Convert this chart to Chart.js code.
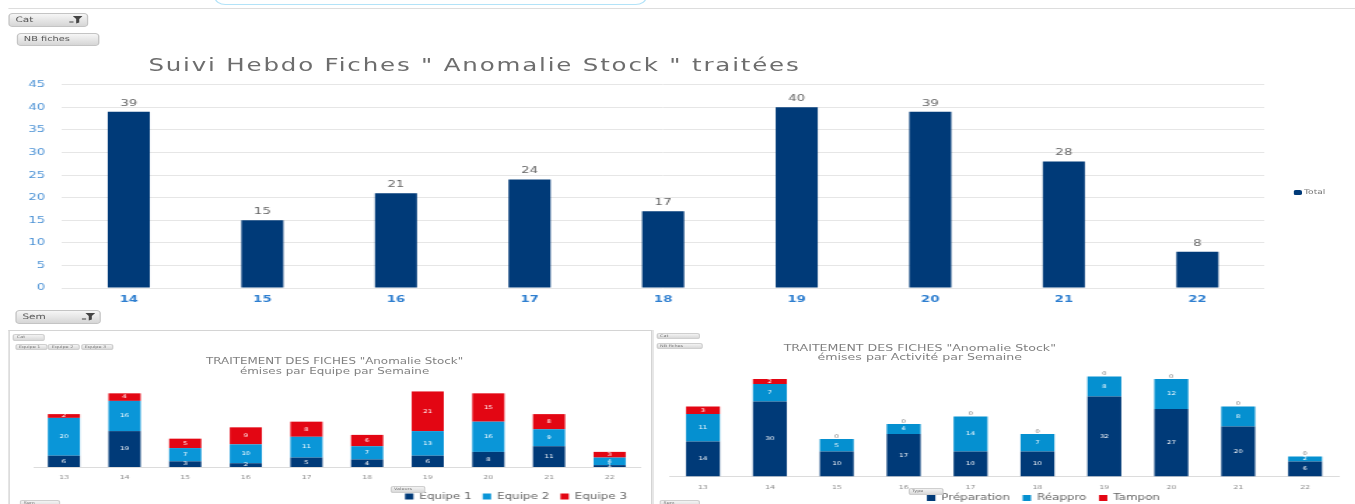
<!DOCTYPE html>
<html><head><meta charset="utf-8">
<script src="https://cdn.jsdelivr.net/npm/chart.js@4.4.1/dist/chart.umd.min.js"></script>
<style>
html,body{margin:0;padding:0;background:#fff;overflow:hidden;width:1355px;height:504px}
#stage{position:absolute;left:0;top:0;width:968px;height:504px;transform:scaleX(1.4);transform-origin:0 0;font-family:"DejaVu Sans",Verdana,sans-serif;overflow:hidden}
.abs{position:absolute}
.btn{position:absolute;box-sizing:border-box;background:linear-gradient(#f6f6f6,#d6d6d6);border:1px solid #c4c4c4;border-radius:3px;color:#555;white-space:nowrap;overflow:hidden}
.btn svg{position:absolute;right:3px}
.mini{position:absolute;box-sizing:border-box;background:linear-gradient(#f3f3f3,#d9d9d9);border:1px solid #cfcfcf;border-radius:2px;color:#777;font-size:3.5px;line-height:5px;padding-left:2px;white-space:nowrap;overflow:hidden}
.title2{position:absolute;color:#808080;text-align:center;white-space:nowrap;font-size:8.5px;line-height:10px}
canvas{position:absolute}
</style>
</head>
<body>
<div id="stage">
  <div class="abs" style="left:153px;top:-12px;width:307px;height:15px;border:1px solid #b3e3f8;border-radius:8px;"></div>
  <div class="abs" style="left:6px;top:8px;width:962px;height:1px;background:#dddddd;"></div>

  <div class="btn" style="left:6px;top:13px;width:57px;height:14px;font-size:7.5px;line-height:12px;padding-left:4px;">Cat<svg width="10" height="8" viewBox="0 0 10 8" style="top:2px"><path d="M3 0H10L7.6 3V6.5L5.4 7.5V3Z" fill="#444"/><path d="M0.5 6H3.5" stroke="#444" stroke-width="1"/></svg></div>
  <div class="btn" style="left:12px;top:33px;width:59px;height:13px;font-size:7px;line-height:11px;padding-left:4px;">NB fiches</div>

  <div class="abs" id="mainTitle" style="left:106px;top:55px;font-size:17.5px;line-height:20px;color:#6d6d6d;white-space:nowrap;letter-spacing:1.3px;">Suivi Hebdo Fiches " Anomalie Stock " traitées</div>

  <canvas id="mainChart" width="968" height="240" style="left:0;top:67px;width:968px;height:240px;"></canvas>
  <div class="abs" style="left:923.5px;top:189.5px;width:6.5px;height:5px;background:#003a78;border-radius:1.5px;"></div>
  <div class="abs" style="left:931.5px;top:187.5px;font-size:6.5px;line-height:9px;color:#7a7a7a;">Total</div>

  <div class="btn" style="left:11px;top:310px;width:61px;height:14px;font-size:7.5px;line-height:12px;padding-left:4px;">Sem<svg width="10" height="8" viewBox="0 0 10 8" style="top:2px"><path d="M3 0H10L7.6 3V6.5L5.4 7.5V3Z" fill="#444"/><path d="M0.5 6H3.5" stroke="#444" stroke-width="1"/></svg></div>

  <!-- bottom-left panel -->
  <div class="abs" style="left:5.7px;top:330px;width:460px;height:190px;border-left:1px solid #d4d4d4;border-top:1px solid #d4d4d4;border-right:1px solid #d4d4d4;box-sizing:border-box;"></div>
  <div class="mini" style="left:9px;top:334px;width:23px;height:7px;">Cat</div>
  <div class="mini" style="left:10.5px;top:344px;width:23px;height:6px;">Equipe 1</div>
  <div class="mini" style="left:34px;top:344px;width:23px;height:6px;">Equipe 2</div>
  <div class="mini" style="left:57.5px;top:344px;width:23px;height:6px;">Equipe 3</div>
  <div class="title2" style="left:89px;top:356px;width:300px;">TRAITEMENT DES FICHES "Anomalie Stock"<br>émises par Equipe par Semaine</div>
  <canvas id="teamChart" width="460" height="133" style="left:6px;top:378px;width:460px;height:133px;"></canvas>
  <div class="mini" style="left:278.5px;top:486px;width:25px;height:7px;">Valeurs</div>
  <div class="mini" style="left:14px;top:500px;width:29px;height:8px;">Sem</div>

  <!-- bottom-right panel -->
  <div class="abs" style="left:466px;top:330px;width:502px;height:190px;border-left:1px solid #e2e2e2;box-sizing:border-box;"></div>
  <div class="mini" style="left:468.5px;top:333px;width:31px;height:6px;">Cat</div>
  <div class="mini" style="left:468.5px;top:343px;width:33.5px;height:5.5px;">NB fiches</div>
  <div class="title2" style="left:507px;top:343.5px;width:300px;font-size:9px;line-height:9.5px;">TRAITEMENT DES FICHES "Anomalie Stock"<br>émises par Activité par Semaine</div>
  <canvas id="typeChart" width="500" height="160" style="left:468px;top:360px;width:500px;height:160px;"></canvas>
  <div class="mini" style="left:648.5px;top:488px;width:25.5px;height:6.5px;">Type</div>
  <div class="mini" style="left:471px;top:500px;width:29px;height:8px;">Sem</div>
</div>

<script>
// ---------- data ----------
const mainWeeks = ['14', '15', '16', '17', '18', '19', '20', '21', '22'];
const totalFiches = [39, 15, 21, 24, 17, 40, 39, 28, 8];

const weeks = ['13', '14', '15', '16', '17', '18', '19', '20', '21', '22'];
const equipe1 = [6, 19, 3, 2, 5, 4, 6, 8, 11, 1];
const equipe2 = [20, 16, 7, 10, 11, 7, 13, 16, 9, 4];
const equipe3 = [2, 4, 5, 9, 8, 6, 21, 15, 8, 3];

const preparation = [14, 30, 10, 17, 10, 10, 32, 27, 20, 6];
const reappro = [11, 7, 5, 4, 14, 7, 8, 12, 8, 2];
const tampon = [3, 2, 0, 0, 0, 0, 0, 0, 0, 0];

// ---------- styles ----------
const NAVY = '#003a78';
const BLUE = '#0a96d8';
const BLUE2 = '#0590d0';
const RED = '#e30613';
const FONT = '"DejaVu Sans", Verdana, sans-serif';

// value labels plugin
const valueLabels = {
  id: 'valueLabels',
  afterDatasetsDraw(chart, args, opts) {
    const ctx = chart.ctx;
    chart.data.datasets.forEach((ds, di) => {
      const meta = chart.getDatasetMeta(di);
      if (meta.hidden) return;
      meta.data.forEach((el, i) => {
        const v = ds.data[i];
        ctx.save();
        ctx.textAlign = 'center';
        if (opts.mode === 'top') {
          ctx.font = opts.font;
          ctx.fillStyle = opts.color;
          ctx.textBaseline = 'bottom';
          ctx.fillText(String(v), el.x, el.y - opts.offset);
        } else if (v > 0) {
          ctx.font = opts.font;
          ctx.fillStyle = '#ffffff';
          ctx.textBaseline = 'middle';
          ctx.fillText(String(v), el.x, (el.y + el.base) / 2);
        } else if (opts.zeroColor) {
          ctx.font = opts.zeroFont;
          ctx.fillStyle = opts.zeroColor;
          ctx.textBaseline = 'bottom';
          ctx.fillText('0', el.x, el.y);
        }
        ctx.restore();
      });
    });
  }
};

// move the legend block to a target start x and item centre y
const legendShift = {
  id: 'legendShift',
  afterLayout(chart, args, opts) {
    const lg = chart.legend;
    if (!lg || !lg.options.display) return;
    const lab = lg.options.labels;
    if (opts.start != null) {
      const dx = opts.start - (lg.left + lab.padding);
      lg.left += dx; lg.right += dx;
    }
    if (opts.centerY != null) {
      const itemH = Math.max(lab.font.size, lab.boxHeight);
      const dy = opts.centerY - (lg.top + lab.padding + itemH / 2);
      lg.top += dy; lg.bottom += dy;
    }
  }
};

Chart.register(valueLabels, legendShift);

// ---------- main chart ----------
new Chart(document.getElementById('mainChart'), {
  type: 'bar',
  data: {
    labels: mainWeeks,
    datasets: [{
      label: 'Total',
      data: totalFiches,
      backgroundColor: NAVY,
      borderWidth: 0,
      barPercentage: 0.315,
      categoryPercentage: 1
    }]
  },
  options: {
    responsive: false,
    animation: false,
    layout: { padding: { top: 0, right: 65, left: 0, bottom: 0 } },
    plugins: {
      legend: { display: false },
      tooltip: { enabled: false },
      legendShift: {},
      valueLabels: { mode: 'top', font: '9.5px ' + FONT, color: '#666666', offset: 4 }
    },
    scales: {
      x: {
        grid: { display: false, drawTicks: false },
        border: { display: false },
        ticks: { color: '#2f7fd0', font: { family: FONT, size: 9.5, weight: 'bold' }, padding: 6 },
        afterFit(s) { s.height = 19; }
      },
      y: {
        min: 0, max: 45,
        grid: { color: '#e6e6e6', drawTicks: false },
        border: { display: false },
        ticks: { stepSize: 5, color: '#4f94d6', font: { family: FONT, size: 9.5 }, padding: 12 },
        afterFit(s) { s.width = 44.3; }
      }
    }
  }
});

// ---------- bottom-left: par Equipe ----------
new Chart(document.getElementById('teamChart'), {
  type: 'bar',
  data: {
    labels: weeks,
    datasets: [
      { label: 'Equipe 1', data: equipe1, backgroundColor: NAVY, borderWidth: 0, barPercentage: 0.53, categoryPercentage: 1 },
      { label: 'Equipe 2', data: equipe2, backgroundColor: BLUE, borderWidth: 0, barPercentage: 0.53, categoryPercentage: 1 },
      { label: 'Equipe 3', data: equipe3, backgroundColor: RED, borderWidth: 0, barPercentage: 0.53, categoryPercentage: 1 }
    ]
  },
  options: {
    responsive: false,
    animation: false,
    layout: { padding: { top: 4, left: 18, right: 8.9, bottom: 0 } },
    plugins: {
      legend: {
        position: 'bottom', align: 'start',
        labels: { boxWidth: 6, boxHeight: 6, padding: 8, color: '#666666', font: { family: FONT, size: 8.5 } }
      },
      legendShift: { start: 283.3, centerY: 118.5 },
      tooltip: { enabled: false },
      valueLabels: { mode: 'inside', font: '5px ' + FONT }
    },
    scales: {
      x: {
        stacked: true,
        grid: { display: false, drawTicks: false },
        border: { display: true, color: '#dcdcdc' },
        ticks: { color: '#8a8a8a', font: { family: FONT, size: 5.5 }, padding: 7 },
        afterFit(s) { s.height = 17.5; }
      },
      y: { stacked: true, display: false, min: 0, max: 45 }
    }
  }
});

// ---------- bottom-right: par Activité ----------
new Chart(document.getElementById('typeChart'), {
  type: 'bar',
  data: {
    labels: weeks,
    datasets: [
      { label: 'Préparation', data: preparation, backgroundColor: NAVY, borderWidth: 0, barPercentage: 0.507, categoryPercentage: 1 },
      { label: 'Réappro', data: reappro, backgroundColor: BLUE2, borderWidth: 0, barPercentage: 0.507, categoryPercentage: 1 },
      { label: 'Tampon', data: tampon, backgroundColor: RED, borderWidth: 0, barPercentage: 0.507, categoryPercentage: 1 }
    ]
  },
  options: {
    responsive: false,
    animation: false,
    layout: { padding: { top: 4, left: 10.2, right: 11.9, bottom: 0 } },
    plugins: {
      legend: {
        position: 'bottom', align: 'start',
        labels: { boxWidth: 6, boxHeight: 6, padding: 9, color: '#666666', font: { family: FONT, size: 8.5 } }
      },
      legendShift: { start: 194.1, centerY: 138 },
      tooltip: { enabled: false },
      valueLabels: { mode: 'inside', font: '5px ' + FONT, zeroColor: '#777777', zeroFont: '5px ' + FONT }
    },
    scales: {
      x: {
        stacked: true,
        grid: { display: false, drawTicks: false },
        border: { display: true, color: '#dcdcdc' },
        ticks: { color: '#8a8a8a', font: { family: FONT, size: 5.5 }, padding: 8 },
        afterFit(s) { s.height = 16; }
      },
      y: { stacked: true, display: false, min: 0, max: 45 }
    }
  }
});
</script>
</body></html>
